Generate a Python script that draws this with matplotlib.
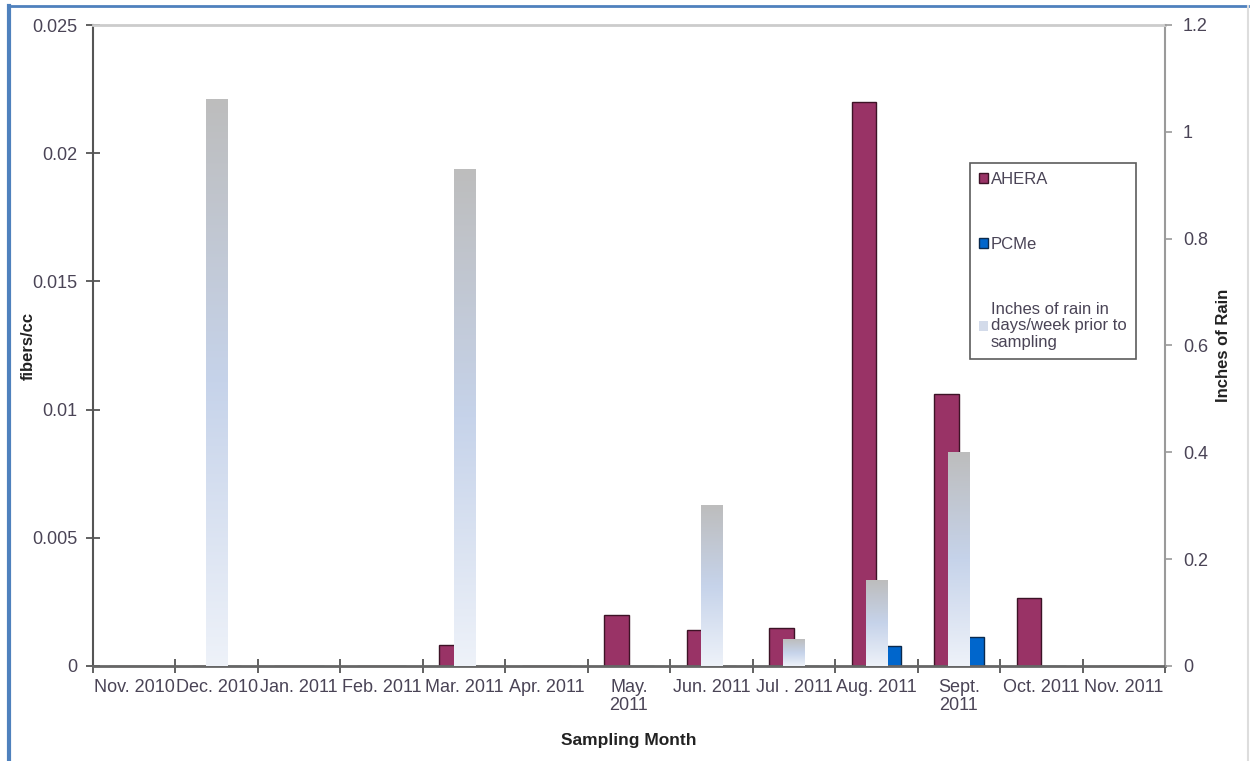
import numpy as np
import matplotlib
matplotlib.use("Agg")
import matplotlib.pyplot as plt
from matplotlib.patches import Patch
from matplotlib.lines import Line2D
from matplotlib.colors import LinearSegmentedColormap

plt.rcParams['font.family'] = ['Liberation Sans', 'DejaVu Sans']

# data
months = ["Nov. 2010", "Dec. 2010", "Jan. 2011", "Feb. 2011", "Mar. 2011", "Apr. 2011",
          "May.\n2011", "Jun. 2011", "Jul . 2011", "Aug. 2011", "Sept.\n2011", "Oct. 2011", "Nov. 2011"]
ahera = [0, 0, 0, 0, 0.00082, 0, 0.0020, 0.00142, 0.0015, 0.0220, 0.0106, 0.00264, 0]
pcme = [0, 0, 0, 0, 0, 0, 0, 0, 0, 0.00078, 0.00113, 0, 0]
rain = [0, 1.06, 0, 0, 0.93, 0, 0, 0.30, 0.05, 0.16, 0.40, 0, 0]

txt_col = '#4a4456'

fig = plt.figure(figsize=(12.54, 7.61), dpi=100)
ax = fig.add_axes([93/1254, 1-666/761, (1165-93)/1254, (666-25)/761])
ax2 = ax.twinx()

x = np.arange(len(months))
w = 0.30
ax.bar(x - w/2, ahera, w, color='#993366', edgecolor='#3d1326', linewidth=1.0, zorder=2)
ax.bar(x + w/2, pcme, w, color='#0066CC', edgecolor='#0b2a4d', linewidth=1.0, zorder=2)

# rain bars with gradient fill (light at bottom, grey at top)
grad = LinearSegmentedColormap.from_list('rain', ['#eef2f9', '#c6d3ea', '#bdbdbd'])
rbars = ax2.bar(x, rain, 0.255, color='none', edgecolor='none')
g = np.linspace(0, 1, 256).reshape(-1, 1)
for b in rbars:
    h = b.get_height()
    if h <= 0:
        continue
    x0 = b.get_x()
    ax2.imshow(g, cmap=grad, origin='lower', aspect='auto',
               extent=[x0, x0 + b.get_width(), 0, h], zorder=3)

ax.set_xlim(-0.5, len(months) - 0.5)
ax2.set_xlim(-0.5, len(months) - 0.5)
ax.set_ylim(0, 0.025)
ax2.set_ylim(0, 1.2)
ax.set_yticks([0, 0.005, 0.01, 0.015, 0.02, 0.025])
ax.set_yticklabels(['0', '0.005', '0.01', '0.015', '0.02', '0.025'])
ax2.set_yticks([0, 0.2, 0.4, 0.6, 0.8, 1.0, 1.2])
ax2.set_yticklabels(['0', '0.2', '0.4', '0.6', '0.8', '1', '1.2'])

ax.set_xticks(x)
ax.set_xticklabels(months, linespacing=1.15)
ax.set_xticks(np.arange(len(months) + 1) - 0.5, minor=True)
ax.tick_params(axis='x', which='major', length=0, pad=9, labelsize=13, labelcolor=txt_col)
ax.tick_params(axis='x', which='minor', direction='inout', length=10, width=1.3, color='#555555')
ax.tick_params(axis='y', direction='inout', length=10, width=1.3, color='#555555',
               labelsize=13, labelcolor=txt_col, pad=6)
ax2.tick_params(axis='y', direction='out', length=5, width=1.2, color='#999999',
                labelsize=13, labelcolor=txt_col, pad=8)

for s in ax2.spines.values():
    s.set_visible(False)
ax.spines['left'].set_color('#555555')
ax.spines['left'].set_linewidth(1.5)
ax.spines['bottom'].set_color('#666666')
ax.spines['bottom'].set_linewidth(2)
ax.spines['top'].set_color('#cccccc')
ax.spines['top'].set_linewidth(2)
ax.spines['right'].set_color('#9a9a9a')
ax.spines['right'].set_linewidth(1.5)

ax.set_xlabel('Sampling Month', fontsize=12.5, fontweight='bold', color='#222222')
ax.xaxis.set_label_coords(0.5, -(741-666)/641, transform=ax.transAxes)
ax.set_ylabel('fibers/cc', fontsize=12, fontweight='bold', color='#222222')
ax.yaxis.set_label_coords((28-93)/1072, 0.5)
ax2.set_ylabel('Inches of Rain', fontsize=12, fontweight='bold', color='#222222')
ax2.yaxis.set_label_coords((1223-93)/1072, 0.5)
ax.xaxis.label.set_va('center')
ax.yaxis.label.set_va('center')
ax2.yaxis.label.set_va('center')

handles = [Patch(facecolor='#993366', edgecolor='#3d1326'),
           Patch(facecolor='#0066CC', edgecolor='#0b2a4d'),
           Patch(facecolor='#d3dbea', edgecolor='none')]
labels = ['AHERA', 'PCMe', 'Inches of rain in\ndays/week prior to\nsampling']
leg = fig.legend(handles, labels, loc='upper left', bbox_to_anchor=(970/1254, 1-163/761),
                 fontsize=12, frameon=True, fancybox=False, handlelength=0.55, handleheight=0.55,
                 handletextpad=0.15, labelspacing=3.0, borderpad=0.55, borderaxespad=0)
leg.get_frame().set_edgecolor('#333333')
leg.get_frame().set_linewidth(1.2)
for t in leg.get_texts():
    t.set_color(txt_col)
    t.set_linespacing(1.1)

# outer frame
fig.add_artist(Line2D([9/1254, 9/1254], [0, 1-6/761], color='#4f81bd', lw=3))
fig.add_artist(Line2D([9/1254, 1248/1254], [1-6/761, 1-6/761], color='#4f81bd', lw=2))
fig.add_artist(Line2D([1248/1254, 1248/1254], [0, 1-6/761], color='#dddddd', lw=1.5))

fig.savefig('out.png', dpi=100)
